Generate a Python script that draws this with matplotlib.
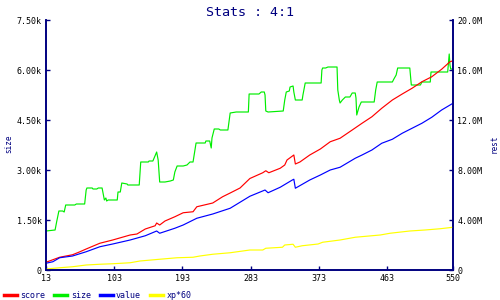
import matplotlib
matplotlib.use("Agg")
import matplotlib.pyplot as plt
from matplotlib.ticker import FixedLocator, FixedFormatter

navy = "#000080"

# size (left axis, in thousands)
size_x = [13, 25, 27, 30, 35, 37, 39, 51, 53, 64, 66, 67, 74, 75, 80, 82, 87, 90, 92, 93,
          95, 107, 108, 111, 113, 120, 121, 136, 138, 148, 149, 154, 159, 161, 163, 170, 177,
          181, 183, 186, 194, 199, 203, 207, 211, 223, 224, 229, 231, 232, 235, 241, 243, 253,
          256, 264, 280, 281, 294, 297, 301, 302, 303, 306, 326, 328, 330, 334, 335, 339, 340,
          342, 351, 352, 355, 376, 377, 378, 382, 385, 397, 398, 400, 401, 404, 408, 414, 417,
          421, 422, 423, 426, 429, 446, 448, 450, 470, 472, 475, 477, 493, 495, 507, 509, 520,
          521, 543, 545, 546, 547, 550]
size_k = [1.17, 1.20, 1.44, 1.77, 1.77, 1.74, 1.95, 1.95, 1.98, 1.98, 2.40, 2.46, 2.46, 2.43,
          2.43, 2.46, 2.46, 2.10, 2.16, 2.07, 2.10, 2.10, 2.34, 2.34, 2.61, 2.58, 2.55, 2.55,
          3.24, 3.24, 3.27, 3.27, 3.54, 3.30, 2.64, 2.64, 2.67, 2.70, 2.94, 3.12, 3.12, 3.15,
          3.24, 3.24, 3.81, 3.81, 3.87, 3.87, 3.66, 3.96, 4.23, 4.23, 4.20, 4.20, 4.71, 4.74,
          4.74, 5.28, 5.28, 5.34, 5.34, 5.25, 4.77, 4.74, 4.77, 5.10, 5.34, 5.37, 5.49, 5.52,
          5.34, 5.10, 5.10, 5.25, 5.61, 5.61, 6.00, 6.06, 6.06, 6.09, 6.09, 5.40, 5.10, 5.01,
          5.10, 5.19, 5.19, 5.31, 5.31, 5.16, 4.65, 4.89, 5.04, 5.04, 5.40, 5.64, 5.64, 5.73,
          5.85, 6.06, 6.06, 5.55, 5.55, 5.64, 5.64, 5.94, 5.94, 6.48, 6.15, 6.03, 6.03]

# score (right axis, in millions)
score_x = [13, 31, 48, 57, 66, 84, 101, 124, 133, 144, 157, 159, 163, 170, 183, 194, 207, 212,
           233, 246, 256, 269, 282, 299, 303, 307, 322, 328, 331, 340, 342, 348, 361, 375, 388,
           401, 417, 430, 443, 456, 470, 483, 496, 509, 522, 535, 546, 550]
score_m = [0.62, 1.02, 1.22, 1.44, 1.68, 2.14, 2.40, 2.80, 2.88, 3.28, 3.54, 3.76, 3.60, 3.92,
           4.26, 4.58, 4.66, 5.06, 5.36, 5.86, 6.16, 6.56, 7.32, 7.78, 7.94, 7.78, 8.14, 8.40,
           8.80, 9.20, 8.48, 8.64, 9.20, 9.68, 10.26, 10.54, 11.20, 11.74, 12.26, 12.94, 13.60,
           14.08, 14.54, 15.06, 15.46, 16.06, 16.66, 16.74]

# value (right axis, in millions)
value_x = [13, 22, 31, 48, 66, 84, 101, 124, 144, 159, 163, 183, 194, 212, 233, 256, 282, 302,
           306, 322, 338, 340, 342, 361, 375, 388, 401, 421, 430, 443, 456, 470, 483, 496, 509,
           522, 535, 550]
value_m = [0.54, 0.66, 0.98, 1.12, 1.46, 1.86, 2.08, 2.40, 2.74, 3.12, 2.94, 3.34, 3.60, 4.14,
           4.48, 4.94, 5.90, 6.40, 6.18, 6.62, 7.20, 7.26, 6.54, 7.20, 7.60, 8.00, 8.22, 8.94,
           9.20, 9.60, 10.14, 10.46, 10.94, 11.34, 11.74, 12.22, 12.80, 13.34]

# xp*60 (right axis, in millions)
xp_x = [13, 31, 48, 66, 84, 101, 124, 137, 163, 186, 207, 216, 233, 256, 282, 299, 303, 325,
        328, 339, 342, 351, 372, 378, 401, 421, 454, 467, 493, 513, 533, 550]
xp_m = [0.08, 0.18, 0.26, 0.40, 0.46, 0.50, 0.58, 0.72, 0.86, 0.98, 1.02, 1.12, 1.26, 1.38,
        1.60, 1.60, 1.74, 1.82, 2.00, 2.06, 1.82, 1.94, 2.08, 2.22, 2.40, 2.62, 2.80, 2.94,
        3.12, 3.20, 3.30, 3.42]

x_ticks = [13, 103, 193, 283, 373, 463, 550]
left_ticks = [0, 1.5, 3.0, 4.5, 6.0, 7.5]
left_labels = ["0", "1.50k", "3.00k", "4.50k", "6.00k", "7.50k"]
right_ticks = [0, 4, 8, 12, 16, 20]
right_labels = ["0", "4.00M", "8.00M", "12.0M", "16.0M", "20.0M"]

plt.rcParams['font.family'] = 'DejaVu Sans Mono'

fig = plt.figure(figsize=(5, 3), dpi=100)
ax = fig.add_axes([46 / 500, 30 / 300, 407 / 500, 250 / 300])
ax2 = ax.twinx()

l_size, = ax.plot(size_x, size_k, color="#00ee00", lw=0.85, label="size")
l_score, = ax2.plot(score_x, score_m, color="#ff0000", lw=0.85, label="score")
l_value, = ax2.plot(value_x, value_m, color="#0000ff", lw=0.85, label="value")
l_xp, = ax2.plot(xp_x, xp_m, color="#ffff00", lw=0.85, label="xp*60")

ax.set_xlim(13, 550)
ax.set_ylim(0, 7.5)
ax2.set_ylim(0, 20)

ax.xaxis.set_major_locator(FixedLocator(x_ticks))
ax.yaxis.set_major_locator(FixedLocator(left_ticks))
ax.yaxis.set_major_formatter(FixedFormatter(left_labels))
ax2.yaxis.set_major_locator(FixedLocator(right_ticks))
ax2.yaxis.set_major_formatter(FixedFormatter(right_labels))

for a in (ax, ax2):
    a.spines["top"].set_visible(False)
    for side in ("left", "right", "bottom"):
        a.spines[side].set_color(navy)
        a.spines[side].set_linewidth(1.2)
    a.tick_params(direction="in", length=3, width=1, color=navy,
                  labelsize=6, labelcolor="black", pad=3)

fig.text(0.5, 1 - 12 / 300, "Stats : 4:1", ha="center", va="center",
         fontsize=9.6, color=navy)
fig.text(9 / 500, 0.52, "size", rotation=90, ha="center", va="center",
         fontsize=5.5, color=navy)
fig.text(494 / 500, 0.52, "rest", rotation=90, ha="center", va="center",
         fontsize=5.5, color=navy)

leg = fig.legend(handles=[l_score, l_size, l_value, l_xp], loc="center left",
                 bbox_to_anchor=(4 / 500, 5 / 300), ncol=4, frameon=False, fontsize=6,
                 labelcolor=navy, handlelength=1.55, handletextpad=0.4, columnspacing=1.1,
                 borderpad=0, borderaxespad=0)
for line in leg.get_lines():
    line.set_linewidth(2.5)

fig.savefig("out.png", dpi=100)
